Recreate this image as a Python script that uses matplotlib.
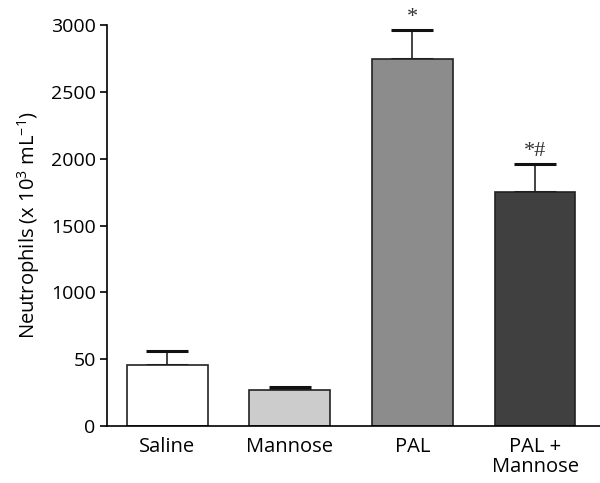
import matplotlib
matplotlib.use('Agg')
import matplotlib.pyplot as plt

groups = ['Saline', 'Mannose', 'PAL', 'PAL +\nMannose']
means = [458, 269, 2745, 1752]
sems = [103, 25, 217, 208]
marks = ['', '', '*', '*#']
colors = ['white', '#cccccc', '#8c8c8c', '#404040']
yticks = [0, 500, 1000, 1500, 2000, 2500, 3000]
ytick_labels = ['0', '50', '1000', '1500', '2000', '2500', '3000']

plt.rcParams['font.family'] = ['Open Sans', 'DejaVu Sans']
plt.rcParams['mathtext.default'] = 'regular'

fig = plt.figure(figsize=(6, 4.83), dpi=100)
ax = fig.add_axes([0.178, 0.118, 0.822, 0.830])

x = range(len(groups))
ax.bar(x, means, width=0.66, color=colors, edgecolor='#222222', linewidth=1.2, zorder=2)
ax.errorbar(x, means, yerr=[[0] * len(sems), sems], fmt='none', ecolor='#111111',
            elinewidth=1.1, capsize=15, capthick=2.2, zorder=1)

for xi, m, s, t in zip(x, means, sems, marks):
    if t:
        ax.text(xi, m + s + 25, t, ha='center', va='bottom', fontsize=16,
                family='Liberation Serif', color='#333333')

ax.set_xlim(-0.494, 3.53)
ax.set_ylim(0, 3000)
ax.set_yticks(yticks)
ax.set_yticklabels(ytick_labels, fontsize=14)
ax.set_xticks(list(x))
ax.set_xticklabels(groups, fontsize=14.5, linespacing=1.0)
ax.tick_params(axis='x', length=0, pad=8)
ax.tick_params(axis='y', length=5, width=1.2, direction='out', pad=3)
for side in ['top', 'right']:
    ax.spines[side].set_visible(False)
ax.spines['left'].set_linewidth(1.2)
ax.spines['bottom'].set_linewidth(1.2)
ax.set_ylabel('Neutrophils (x 10$^3$ mL$^{-1}$)', fontsize=14.5, labelpad=6)

fig.savefig('out.png', dpi=100)
